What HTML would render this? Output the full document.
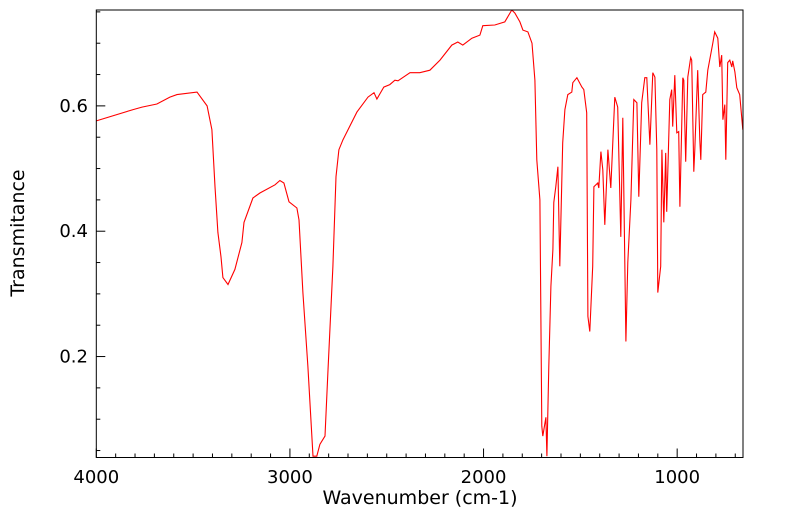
<!DOCTYPE html>
<html><head><meta charset="utf-8"><style>
html,body{margin:0;padding:0;background:#fff;}
svg text{font-family:"DejaVu Sans","Liberation Sans",sans-serif;fill:#000;}
</style></head><body>
<svg id="chart" width="799" height="516" viewBox="0 0 799 516" xmlns="http://www.w3.org/2000/svg">
<defs><clipPath id="plotclip"><rect x="96.3" y="10" width="646.7" height="447.5"/></clipPath></defs>
<g id="axes"></g>
<polyline id="spectrum" fill="none" stroke="#ff0000" stroke-width="1.1" clip-path="url(#plotclip)"/>
<rect x="96.3" y="10" width="646.7" height="447.5" fill="none" stroke="#000" stroke-width="1"/>
<text x="420" y="504" font-size="19" text-anchor="middle">Wavenumber (cm-1)</text>
<text transform="translate(24,233) rotate(-90)" font-size="19" text-anchor="middle">Transmitance</text>
</svg>
<script>
const wavenumbers = [4000,3810,3764,3687,3620,3583,3480,3428,3403,3387,3372,3356,3346,3320,3284,3248,3237,3191,3155,3077,3052,3031,3005,2964,2953,2933,2907,2881,2861,2845,2819,2804,2778,2762,2747,2726,2654,2597,2566,2551,2515,2484,2458,2442,2380,2329,2277,2225,2164,2133,2107,2060,2019,2004,1942,1890,1854,1838,1812,1797,1771,1750,1735,1725,1709,1699,1694,1678,1673,1663,1652,1642,1637,1627,1616,1606,1591,1580,1565,1544,1539,1518,1492,1482,1467,1461,1451,1436,1430,1410,1405,1394,1384,1374,1358,1343,1322,1307,1291,1281,1265,1255,1239,1224,1208,1198,1183,1167,1157,1141,1126,1115,1105,1100,1085,1079,1069,1059,1054,1038,1028,1023,1012,1002,992,986,971,966,956,945,930,925,914,909,894,883,878,868,852,842,816,806,790,780,770,764,754,749,739,728,718,713,702,692,677,661];
const transmittance = [0.576,0.594,0.598,0.603,0.614,0.618,0.622,0.600,0.562,0.471,0.398,0.359,0.326,0.315,0.339,0.382,0.414,0.453,0.461,0.474,0.481,0.477,0.447,0.437,0.418,0.302,0.184,0.041,0.041,0.060,0.073,0.175,0.344,0.487,0.530,0.546,0.590,0.614,0.621,0.611,0.630,0.634,0.641,0.640,0.653,0.653,0.657,0.673,0.697,0.702,0.697,0.708,0.713,0.728,0.729,0.734,0.753,0.748,0.734,0.721,0.718,0.700,0.641,0.514,0.450,0.089,0.073,0.103,0.041,0.184,0.312,0.371,0.446,0.471,0.503,0.344,0.541,0.594,0.618,0.622,0.637,0.645,0.630,0.626,0.589,0.264,0.240,0.344,0.471,0.477,0.469,0.527,0.498,0.410,0.530,0.469,0.614,0.598,0.391,0.581,0.224,0.350,0.450,0.610,0.605,0.455,0.605,0.645,0.645,0.538,0.653,0.646,0.530,0.302,0.344,0.530,0.414,0.525,0.431,0.610,0.626,0.567,0.649,0.557,0.559,0.439,0.645,0.641,0.511,0.646,0.677,0.673,0.495,0.530,0.657,0.546,0.514,0.618,0.622,0.657,0.700,0.718,0.708,0.662,0.681,0.578,0.602,0.514,0.669,0.673,0.662,0.672,0.654,0.629,0.618,0.562];
const xTickValues = [4000,3000,2000,1000];
const xTickLabels = ["4000","3000","2000","1000"];
const yTickValues = [0.2,0.4,0.6];
const yTickLabels = ["0.2","0.4","0.6"];

const X0=96.3, X1=743, Y0=457.5, Y1=10;
const wnMax=4000, wnMin=660, tMin=0.0389, tMax=0.753;
function xScale(w){return X0+(wnMax-w)/(wnMax-wnMin)*(X1-X0);}
function yScale(t){return Y0-(t-tMin)/(tMax-tMin)*(Y0-Y1);}

const NS="http://www.w3.org/2000/svg";
const axes=document.getElementById('axes');
function line(x1,y1,x2,y2,name){
  const l=document.createElementNS(NS,'line');
  l.setAttribute('x1',x1);l.setAttribute('y1',y1);l.setAttribute('x2',x2);l.setAttribute('y2',y2);
  l.setAttribute('stroke','#000');l.setAttribute('stroke-width','1');
  
  
  axes.appendChild(l);
}
function text(x,y,s,anchor,name){
  const t=document.createElementNS(NS,'text');
  t.setAttribute('x',x);t.setAttribute('y',y);t.setAttribute('font-size','18');t.setAttribute('text-anchor',anchor);
  t.textContent=s;
  
  
  axes.appendChild(t);
}
for(let w=4000; w>=700; w-=100){
  const x=xScale(w); const major=(w%1000===0);
  line(x,Y0,x,Y0-(major?9:4),'x-tick');
}
xTickValues.forEach((v,i)=>text(xScale(v),483,xTickLabels[i],'middle','x-tick-label'));
for(let k=1;k<=15;k++){
  const t=k*0.05; const y=yScale(t);
  if(y<Y1||y>Y0) continue;
  const major=(k%4===0);
  line(X0,y,X0+(major?9:4),y,'y-tick');
}
yTickValues.forEach((v,i)=>text(88,yScale(v)+6,yTickLabels[i],'end','y-tick-label'));

const pts=wavenumbers.map((w,i)=>xScale(w).toFixed(1)+','+yScale(transmittance[i]).toFixed(1)).join(' ');
document.getElementById('spectrum').setAttribute('points',pts);
</script>
</body></html>
